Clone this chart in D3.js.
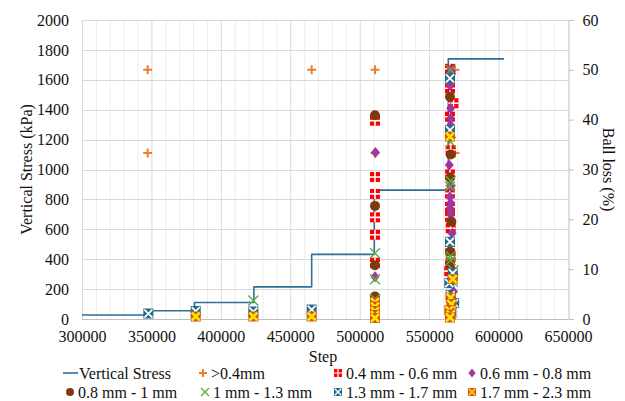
<!DOCTYPE html>
<html>
<head>
<meta charset="utf-8">
<script src="https://cdn.jsdelivr.net/npm/d3@7"></script>
<style>
  html, body { margin: 0; padding: 0; background: #fff; }
  svg { display: block; font-family: "Liberation Serif", "Times New Roman", serif; }
</style>
</head>
<body>
<svg id="chart" width="625" height="401"></svg>
<script>
// Vertical stress history (step start, kPa held until next step)
const stressSteps = [300000, 350500, 381000, 423800, 465400, 510500, 563800];
const stressKPa   = [27, 55, 110, 215, 432, 862, 1740];
const stressEnd   = 603900;

// Ball loss (%) per size fraction: [step, loss]
const lossGt04 = [[347300, 50], [347300, 33.3], [465400, 50], [511000, 50], [511000, 33.3],
  [568600, 50], [568600, 33.3]];
const loss04to06 = [[511000, 39.8], [511000, 28.5], [511000, 25.1], [511000, 20.4], [511000, 16.9],
  [511000, 11.3], [565000, 50.2], [565000, 46.3], [567500, 43.3], [565000, 40.6], [565500, 33.9],
  [565000, 29.0], [565000, 25.2], [565000, 22.5], [565000, 20.5], [565500, 18.2], [565000, 14.3],
  [565500, 12.5], [565000, 10.8], [564500, 9.6]];
const loss06to08 = [[511300, 33.4], [511000, 8.5], [565500, 50], [565000, 46.8], [565500, 42.3],
  [565500, 40.3], [565500, 38.9], [564500, 30.9], [565500, 26.6], [565000, 24.5], [565500, 23.3],
  [565000, 22.2], [565500, 20.9], [566500, 17.2], [567500, 5.5]];
const loss08to1 = [[511000, 40.9], [511000, 22.7], [511000, 10.8], [511000, 4.5], [565000, 44.6],
  [565500, 33.0], [565000, 28.4], [566000, 19.5], [565000, 13.5], [565000, 11.2]];
const loss1to13 = [[423400, 3.7], [511000, 13.2], [511000, 8.0], [511000, 4.0], [565500, 50],
  [565500, 35.5], [565500, 27.7], [565000, 26.6], [565500, 12.6], [565500, 11.8], [567500, 9.8],
  [567000, 7.5]];
const loss13to17 = [[347800, 1.1], [381900, 1.6], [423400, 1.5], [465400, 1.9], [565000, 48.3],
  [565000, 37.9], [565000, 15.5], [567000, 9.2], [564500, 7.2], [565500, 4.8], [568000, 3.2],
  [566000, 1.2]];
const loss17to23 = [[381900, 0.5], [423400, 0.5], [465400, 0.5], [511000, 3.4], [511000, 2.5],
  [511000, 1.6], [511000, 0.8], [511000, 0.2], [565000, 36.6], [567000, 8.0], [565500, 4.3],
  [566000, 3.0], [564500, 1.8], [565500, 0.9], [565000, 0.3]];

const xTicks  = [300000, 350000, 400000, 450000, 500000, 550000, 600000, 650000];
const yLTicks = [0, 200, 400, 600, 800, 1000, 1200, 1400, 1600, 1800, 2000];
const yRTicks = [0, 10, 20, 30, 40, 50, 60];

const svg = d3.select("#chart");
const plotL = 82, plotR = 568, plotT = 20, plotB = 319;

const x  = d3.scaleLinear().domain([300000, 650000]).range([plotL, plotR]);
const yL = d3.scaleLinear().domain([0, 2000]).range([plotB, plotT]);
const yR = d3.scaleLinear().domain([0, 60]).range([plotB, plotT]);

// gridlines
const grid = svg.append("g");
grid.selectAll("line.minor")
  .data(d3.range(300000, 650001, 10000).filter(v => v % 50000 !== 0))
  .join("line").attr("class", "minor")
  .attr("x1", d => x(d) + 0.5).attr("x2", d => x(d) + 0.5)
  .attr("y1", plotT).attr("y2", plotB)
  .attr("stroke", "#ededed").attr("stroke-width", 1);
grid.selectAll("line.vmajor").data(xTicks.slice(0, -1))
  .join("line").attr("class", "vmajor")
  .attr("x1", d => x(d) + 0.5).attr("x2", d => x(d) + 0.5)
  .attr("y1", plotT).attr("y2", plotB)
  .attr("stroke", "#d9d9d9").attr("stroke-width", 1);
grid.selectAll("line.hmajor").data(yLTicks.slice(1))
  .join("line").attr("class", "hmajor")
  .attr("x1", plotL).attr("x2", plotR)
  .attr("y1", d => Math.round(yL(d)) + 0.5).attr("y2", d => Math.round(yL(d)) + 0.5)
  .attr("stroke", "#d9d9d9").attr("stroke-width", 1);

// bottom axis line
svg.append("line").attr("x1", plotL).attr("x2", plotR)
  .attr("y1", plotB + 0.5).attr("y2", plotB + 0.5)
  .attr("stroke", "#bfbfbf");

const fs = 16;
const textColor = "#111";

// bottom axis
const xAxis = svg.append("g").attr("transform", `translate(0,${plotB})`)
  .call(d3.axisBottom(x).tickValues(xTicks).tickSize(0).tickPadding(11).tickFormat(d3.format("d")));
xAxis.select(".domain").remove();
xAxis.selectAll("text").attr("font-size", fs).attr("fill", textColor)
  .attr("font-family", "Liberation Serif").attr("dy", "0.78em");

// left axis
const yAxisL = svg.append("g").attr("transform", `translate(${plotL},0)`)
  .call(d3.axisLeft(yL).tickValues(yLTicks).tickSize(0).tickPadding(13).tickFormat(d3.format("d")));
yAxisL.select(".domain").remove();
yAxisL.selectAll("text").attr("font-size", fs).attr("fill", textColor)
  .attr("font-family", "Liberation Serif");

// right axis
const yAxisR = svg.append("g").attr("transform", `translate(${plotR + 0.5},0)`)
  .call(d3.axisRight(yR).tickValues(yRTicks).tickSize(5).tickPadding(9).tickFormat(d3.format("d")));
yAxisR.select(".domain").attr("stroke", "#bfbfbf");
yAxisR.selectAll(".tick line").attr("stroke", "#bfbfbf");
yAxisR.selectAll("text").attr("font-size", fs).attr("fill", textColor)
  .attr("font-family", "Liberation Serif");

// axis titles
svg.append("text").attr("x", 323).attr("y", 362).attr("text-anchor", "middle")
  .attr("font-size", fs).attr("fill", textColor).text("Step");
svg.append("text").attr("transform", `translate(32,${(plotT + plotB) / 2}) rotate(-90)`)
  .attr("text-anchor", "middle").attr("font-size", fs).attr("fill", textColor)
  .text("Vertical Stress (kPa)");
svg.append("text").attr("transform", `translate(603,${(plotT + plotB) / 2}) rotate(90)`)
  .attr("text-anchor", "middle").attr("font-size", fs).attr("fill", textColor)
  .text("Ball loss (%)");

// vertical stress step line
const stressPts = [];
stressSteps.forEach((s, i) => {
  if (i > 0) stressPts.push([s, stressKPa[i - 1]]);
  stressPts.push([s, stressKPa[i]]);
});
stressPts.push([stressEnd, stressKPa[stressKPa.length - 1]]);
const stressColor = "#2f6f98";
svg.append("path").datum(stressPts)
  .attr("d", d3.line().x(d => x(d[0])).y(d => yL(d[1])))
  .attr("fill", "none").attr("stroke", stressColor).attr("stroke-width", 1.6)
  .attr("stroke-linejoin", "round");

// marker painters (drawn centred at 0,0)
function plusMarker(g, s) {
  const h = s * 0.5;
  g.append("path").attr("d", `M${-h},0H${h}M0,${-h}V${h}`)
    .attr("stroke", "#ed7d31").attr("stroke-width", 2).attr("fill", "none");
}
function redSquare(g, s) {
  const h = s / 2;
  g.append("rect").attr("x", -h).attr("y", -h).attr("width", s).attr("height", s).attr("fill", "#ff0000");
  g.append("path").attr("d", `M${-h},0H${h}M0,${-h}V${h}`)
    .attr("stroke", "#fff").attr("stroke-width", s > 8 ? 1.6 : 1.2);
}
function diamond(g, s) {
  const w = s * 0.45, hh = s * 0.55;
  g.append("path").attr("d", `M0,${-hh}L${w},0L0,${hh}L${-w},0Z`).attr("fill", "#a0379f");
}
function circle(g, s) {
  g.append("circle").attr("r", s / 2).attr("fill", "#7e3a0e");
}
function xMarker(g, s) {
  const h = s / 2;
  g.append("path").attr("d", `M${-h},${-h}L${h},${h}M${-h},${h}L${h},${-h}`)
    .attr("stroke", "#5cb043").attr("stroke-width", 1.4).attr("fill", "none");
}
function blueSquare(g, s) {
  const h = s / 2;
  g.append("rect").attr("x", -h).attr("y", -h).attr("width", s).attr("height", s).attr("fill", "#216a8c");
  const k = h * 0.8;
  g.append("path").attr("d", `M${-k},${-k}L${k},${k}M${-k},${k}L${k},${-k}`)
    .attr("stroke", "#fff").attr("stroke-width", s > 8 ? 1.8 : 1.3);
}
function orangeSquare(g, s) {
  const h = s / 2;
  g.append("rect").attr("x", -h).attr("y", -h).attr("width", s).attr("height", s).attr("fill", "#d0561b");
  const k = h * 0.8;
  g.append("path").attr("d", `M${-k},${-k}L${k},${k}M${-k},${k}L${k},${-k}`)
    .attr("stroke", "#ffe600").attr("stroke-width", s > 8 ? 2.5 : 1.5);
}

const seriesList = [
  { name: ">0.4mm",          data: lossGt04,   paint: plusMarker,   size: 9 },
  { name: "0.4 mm - 0.6 mm", data: loss04to06, paint: redSquare,    size: 10 },
  { name: "0.6 mm - 0.8 mm", data: loss06to08, paint: diamond,      size: 10 },
  { name: "0.8 mm - 1 mm",   data: loss08to1,  paint: circle,       size: 10 },
  { name: "1 mm - 1.3 mm",   data: loss1to13,  paint: xMarker,      size: 10 },
  { name: "1.3 mm - 1.7 mm", data: loss13to17, paint: blueSquare,   size: 10 },
  { name: "1.7 mm - 2.3 mm", data: loss17to23, paint: orangeSquare, size: 10 }
];

const marks = svg.append("g");
seriesList.forEach(s => {
  marks.append("g").selectAll("g").data(s.data).join("g")
    .attr("transform", d => `translate(${x(d[0])},${yR(d[1])})`)
    .each(function () { s.paint(d3.select(this), s.size); });
});

// legend
const legend = svg.append("g");
const legendItems = [
  { label: "Vertical Stress", lx: 63, row: 0, line: true },
  { label: ">0.4mm",          lx: 203, row: 0, s: seriesList[0] },
  { label: "0.4 mm - 0.6 mm", lx: 338, row: 0, s: seriesList[1] },
  { label: "0.6 mm - 0.8 mm", lx: 472, row: 0, s: seriesList[2] },
  { label: "0.8 mm - 1 mm",   lx: 70,  row: 1, s: seriesList[3] },
  { label: "1 mm - 1.3 mm",   lx: 205, row: 1, s: seriesList[4] },
  { label: "1.3 mm - 1.7 mm", lx: 338, row: 1, s: seriesList[5] },
  { label: "1.7 mm - 2.3 mm", lx: 472, row: 1, s: seriesList[6] }
];
const rowY = [373, 392];
legendItems.forEach(it => {
  const cy = rowY[it.row];
  if (it.line) {
    legend.append("line").attr("x1", it.lx).attr("x2", it.lx + 15)
      .attr("y1", cy).attr("y2", cy).attr("stroke", stressColor).attr("stroke-width", 1.6);
    legend.append("text").attr("x", it.lx + 16).attr("y", cy + 5.5)
      .attr("font-size", fs).attr("fill", textColor).text(it.label);
  } else {
    const g = legend.append("g").attr("transform", `translate(${it.lx},${cy})`);
    it.s.paint(g, 8);
    legend.append("text").attr("x", it.lx + 8).attr("y", cy + 5.5)
      .attr("font-size", fs).attr("fill", textColor).text(it.label);
  }
});
</script>
</body>
</html>
